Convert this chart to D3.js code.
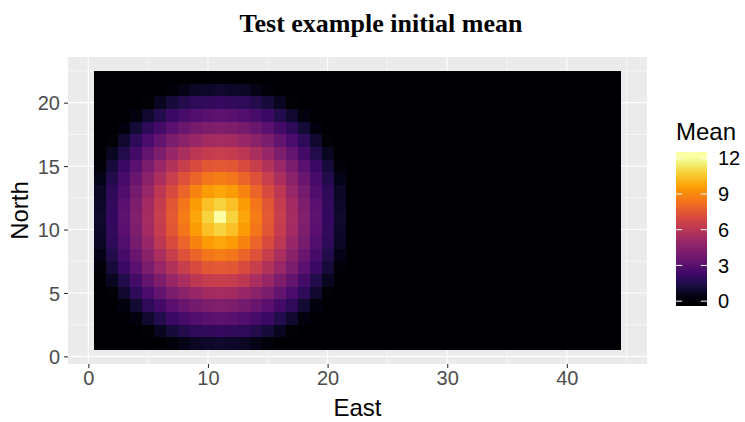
<!DOCTYPE html>
<html>
<head>
<meta charset="utf-8">
<script src="https://cdn.jsdelivr.net/npm/d3@7"></script>
<style>
  body { margin: 0; background: #fff; }
  svg { display: block; }
</style>
</head>
<body>
<div id="chartId"></div>
<script>
// grid size (cells east x north)
var eastCount = 44;
var northCount = 22;

// mean per cell, one row per north value from 22 down to 1,
// columns are east = 1..22 (east 23..44 read as 0, all black)
var mean22 = [0,0,0,0,0,0,0,0,0,0,0,0,0,0,0,0,0,0,0,0,0,0];
var mean21 = [0,0,0,0,0,0,0.2,0.5,0.8,0.9,1.0,0.9,0.8,0.5,0.2,0,0,0,0,0,0,0];
var mean20 = [0,0,0,0,0.1,0.7,1.2,1.6,1.9,2.0,2.1,2.0,1.9,1.6,1.2,0.7,0.1,0,0,0,0,0];
var mean19 = [0,0,0,0.3,1.0,1.6,2.2,2.6,2.9,3.1,3.2,3.1,2.9,2.6,2.2,1.6,1.0,0.3,0,0,0,0];
var mean18 = [0,0,0.3,1.1,1.9,2.5,3.1,3.6,4.0,4.2,4.3,4.2,4.0,3.6,3.1,2.5,1.9,1.1,0.3,0,0,0];
var mean17 = [0,0.1,1.0,1.9,2.7,3.4,4.1,4.6,5.0,5.3,5.4,5.3,5.0,4.6,4.1,3.4,2.7,1.9,1.0,0.1,0,0];
var mean16 = [0,0.7,1.6,2.5,3.4,4.2,5.0,5.6,6.1,6.4,6.5,6.4,6.1,5.6,5.0,4.2,3.4,2.5,1.6,0.7,0,0];
var mean15 = [0.2,1.2,2.2,3.1,4.1,5.0,5.8,6.5,7.1,7.5,7.6,7.5,7.1,6.5,5.8,5.0,4.1,3.1,2.2,1.2,0.2,0];
var mean14 = [0.5,1.6,2.6,3.6,4.6,5.6,6.5,7.3,8.0,8.5,8.7,8.5,8.0,7.3,6.5,5.6,4.6,3.6,2.6,1.6,0.5,0];
var mean13 = [0.8,1.9,2.9,4.0,5.0,6.1,7.1,8.0,8.9,9.5,9.8,9.5,8.9,8.0,7.1,6.1,5.0,4.0,2.9,1.9,0.8,0];
var mean12 = [0.9,2.0,3.1,4.2,5.3,6.4,7.5,8.5,9.5,10.4,10.9,10.4,9.5,8.5,7.5,6.4,5.3,4.2,3.1,2.0,0.9,0];
var mean11 = [1.0,2.1,3.2,4.3,5.4,6.5,7.6,8.7,9.8,10.9,12.2,10.9,9.8,8.7,7.6,6.5,5.4,4.3,3.2,2.1,1.0,0];
var mean10 = mean12.slice();
var mean9 = mean13.slice();
var mean8 = mean14.slice();
var mean7 = mean15.slice();
var mean6 = mean16.slice();
var mean5 = mean17.slice();
var mean4 = mean18.slice();
var mean3 = mean19.slice();
var mean2 = mean20.slice();
var mean1 = mean21.slice();

var meanRows = [mean22, mean21, mean20, mean19, mean18, mean17, mean16, mean15, mean14, mean13, mean12,
                mean11, mean10, mean9, mean8, mean7, mean6, mean5, mean4, mean3, mean2, mean1];

// tick labels
var xTicks = [0, 10, 20, 30, 40];
var yTicks = [0, 5, 10, 15, 20];
var legendTicks = [0, 3, 6, 9, 12];

var titleText = "Test example initial mean";

// build the cell table
var cells = [];
meanRows.forEach(function(row, i) {
    var north = northCount - i;
    for (var e = 1; e <= eastCount; e++) {
        cells.push({east: e, north: north, mean: row[e - 1] || 0});
    }
});

// panel geometry
var panel = {left: 68, right: 647, top: 57, bottom: 364};

var svg = d3.select("#chartId")
    .append("svg")
    .attr("width", 745)
    .attr("height", 422);

// scales with ggplot style expansion
var x = d3.scaleLinear().domain([-1.7, 46.7]).range([panel.left, panel.right]);
var y = d3.scaleLinear().domain([-0.6, 23.6]).range([panel.bottom, panel.top]);
var maxMean = d3.max(cells, function(d) { return d.mean; });
var color = d3.scaleSequential(d3.interpolateInferno).domain([0, maxMean]);

// panel background
svg.append("rect")
    .attr("x", panel.left)
    .attr("y", panel.top)
    .attr("width", panel.right - panel.left)
    .attr("height", panel.bottom - panel.top)
    .attr("fill", "#EBEBEB");

// minor grid
var xMinor = [5, 15, 25, 35, 45];
var yMinor = [2.5, 7.5, 12.5, 17.5, 22.5];
svg.selectAll("line.xminor")
    .data(xMinor)
    .enter().append("line")
    .attr("x1", function(d) { return x(d); })
    .attr("x2", function(d) { return x(d); })
    .attr("y1", panel.top)
    .attr("y2", panel.bottom)
    .attr("stroke", "#fff")
    .attr("stroke-width", 0.55);
svg.selectAll("line.yminor")
    .data(yMinor)
    .enter().append("line")
    .attr("y1", function(d) { return y(d); })
    .attr("y2", function(d) { return y(d); })
    .attr("x1", panel.left)
    .attr("x2", panel.right)
    .attr("stroke", "#fff")
    .attr("stroke-width", 0.55);

// major grid
svg.selectAll("line.xmajor")
    .data(xTicks)
    .enter().append("line")
    .attr("x1", function(d) { return x(d); })
    .attr("x2", function(d) { return x(d); })
    .attr("y1", panel.top)
    .attr("y2", panel.bottom)
    .attr("stroke", "#fff")
    .attr("stroke-width", 1.1);
svg.selectAll("line.ymajor")
    .data(yTicks)
    .enter().append("line")
    .attr("y1", function(d) { return y(d); })
    .attr("y2", function(d) { return y(d); })
    .attr("x1", panel.left)
    .attr("x2", panel.right)
    .attr("stroke", "#fff")
    .attr("stroke-width", 1.1);

// raster cells (slight overlap so no seams show through)
svg.append("g")
    .attr("shape-rendering", "crispEdges")
    .selectAll("rect")
    .data(cells)
    .enter().append("rect")
    .attr("x", function(d) { return x(d.east - 0.5); })
    .attr("y", function(d) { return y(d.north + 0.5); })
    .attr("width", function(d) { return x(d.east + 0.5) - x(d.east - 0.5) + (d.east < eastCount ? 1 : 0); })
    .attr("height", function(d) { return y(d.north - 0.5) - y(d.north + 0.5) + (d.north > 1 ? 1 : 0); })
    .attr("fill", function(d) { return color(d.mean); });

// x axis
var xAxis = svg.append("g")
    .attr("transform", "translate(0," + panel.bottom + ")")
    .call(d3.axisBottom(x).tickValues(xTicks).tickSize(4).tickPadding(3));
xAxis.select(".domain").remove();
xAxis.selectAll("line").attr("stroke", "#333333").attr("stroke-width", 1.1);
xAxis.selectAll("text")
    .attr("fill", "#4D4D4D")
    .style("font-family", "Liberation Sans, Arial, sans-serif")
    .style("font-size", "20px");

// y axis
var yAxis = svg.append("g")
    .attr("transform", "translate(" + panel.left + ",0)")
    .call(d3.axisLeft(y).tickValues(yTicks).tickSize(4).tickPadding(4));
yAxis.select(".domain").remove();
yAxis.selectAll("line").attr("stroke", "#333333").attr("stroke-width", 1.1);
yAxis.selectAll("text")
    .attr("fill", "#4D4D4D")
    .attr("dy", "0.36em")
    .style("font-family", "Liberation Sans, Arial, sans-serif")
    .style("font-size", "20px");

// axis titles
svg.append("text")
    .attr("x", (panel.left + panel.right) / 2)
    .attr("y", 416)
    .attr("text-anchor", "middle")
    .style("font-family", "Liberation Sans, Arial, sans-serif")
    .style("font-size", "24px")
    .text("East");

svg.append("text")
    .attr("transform", "translate(28," + ((panel.top + panel.bottom) / 2) + ") rotate(-90)")
    .attr("text-anchor", "middle")
    .style("font-family", "Liberation Sans, Arial, sans-serif")
    .style("font-size", "24px")
    .text("North");

// title
svg.append("text")
    .attr("x", 381)
    .attr("y", 32)
    .attr("text-anchor", "middle")
    .style("font-family", "Liberation Serif, Times New Roman, serif")
    .style("font-weight", "bold")
    .style("font-size", "26px")
    .text(titleText);

// legend colourbar, ticks inset by half of a 20 bin step like ggplot
var bar = {left: 676, width: 31, top: 152, bottom: 305, nbin: 20, steps: 150};
var binH = (bar.bottom - bar.top) / bar.nbin;
var legendY = d3.scaleLinear()
    .domain([0, maxMean])
    .range([bar.bottom - binH / 2, bar.top + binH / 2]);
var stepH = (bar.bottom - bar.top) / bar.steps;
var steps = d3.range(bar.steps);

svg.append("g")
    .attr("shape-rendering", "crispEdges")
    .selectAll("rect")
    .data(steps)
    .enter().append("rect")
    .attr("x", bar.left)
    .attr("y", function(i) { return bar.bottom - (i + 1) * stepH; })
    .attr("width", bar.width)
    .attr("height", stepH + 0.6)
    .attr("fill", function(i) {
        var v = legendY.invert(bar.bottom - (i + 0.5) * stepH);
        return color(Math.max(0, Math.min(maxMean, v)));
    });

var legendAxis = svg.append("g");
legendAxis.selectAll("line.tl")
    .data(legendTicks)
    .enter().append("line")
    .attr("x1", bar.left)
    .attr("x2", bar.left + bar.width / 5)
    .attr("y1", function(d) { return legendY(d); })
    .attr("y2", function(d) { return legendY(d); })
    .attr("stroke", "#fff")
    .attr("stroke-width", 1);
legendAxis.selectAll("line.tr")
    .data(legendTicks)
    .enter().append("line")
    .attr("x1", bar.left + bar.width * 4 / 5)
    .attr("x2", bar.left + bar.width)
    .attr("y1", function(d) { return legendY(d); })
    .attr("y2", function(d) { return legendY(d); })
    .attr("stroke", "#fff")
    .attr("stroke-width", 1);
legendAxis.selectAll("text")
    .data(legendTicks)
    .enter().append("text")
    .attr("x", bar.left + bar.width + 11)
    .attr("y", function(d) { return legendY(d); })
    .attr("dy", "0.36em")
    .style("font-family", "Liberation Sans, Arial, sans-serif")
    .style("font-size", "20px")
    .text(function(d) { return d; });

svg.append("text")
    .attr("x", bar.left)
    .attr("y", 140)
    .style("font-family", "Liberation Sans, Arial, sans-serif")
    .style("font-size", "24px")
    .text("Mean");
</script>
</body>
</html>
